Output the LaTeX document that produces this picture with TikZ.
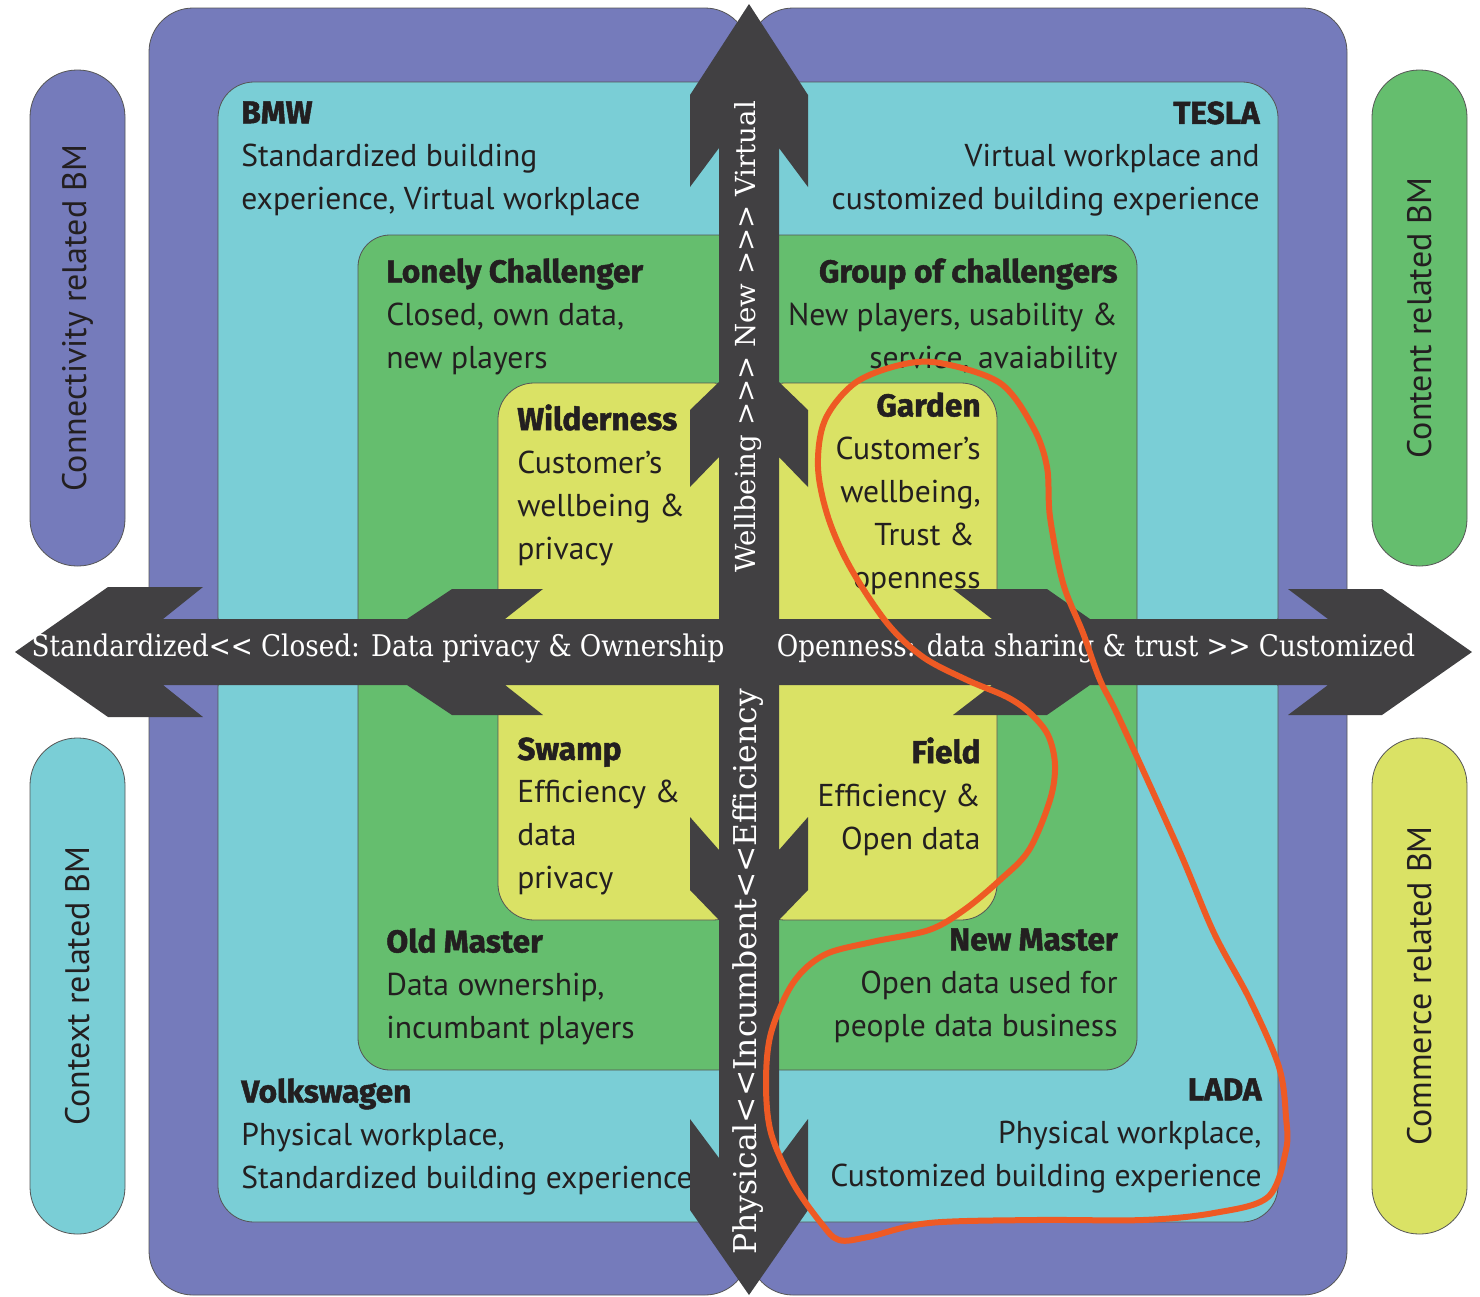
\documentclass[tikz,border=0pt]{standalone}
\usepackage{fontspec}
\setmainfont{PT Sans}
\newfontfamily\headfont{Fira Sans}[BoldFeatures={FakeBold=1.5}]
\newfontfamily\arrowfont{DejaVu Serif}[FakeStretch=0.88]
\newfontfamily\axisfont{DejaVu Serif}

\definecolor{ringpurple}{RGB}{117,123,187}
\definecolor{ringcyan}{RGB}{122,206,214}
\definecolor{ringgreen}{RGB}{101,190,110}
\definecolor{ringyellow}{RGB}{218,226,101}
\definecolor{arrowgray}{RGB}{65,64,66}
\definecolor{loopred}{RGB}{238,90,36}
\definecolor{textdark}{RGB}{35,31,32}
\definecolor{edgegray}{RGB}{85,85,85}

\newcommand{\head}[1]{{\headfont\bfseries\fontsize{15.8}{21.5}\selectfont #1}}

\tikzset{
	quadrant/.style={draw=edgegray, line width=0.4pt, rounded corners=#1},
	pill/.style={draw=edgegray, line width=0.4pt, rounded corners=23.5pt, minimum width=248pt, minimum height=47.5pt, inner sep=0pt, rotate=90, text=textdark, font=\fontsize{17}{20}\selectfont},
	block/.style={inner sep=0pt, text=textdark, font=\fontsize{15.8}{21.5}\selectfont},
	axisarrow/.style={fill=arrowgray},
	axislabel/.style={text=white, inner sep=0pt, font=\arrowfont\fontsize{14.9}{17}\selectfont},
	axislabelv/.style={text=white, inner sep=0pt, rotate=90},
	orangeloop/.style={draw=loopred, line width=3pt},
}

\begin{document}
\begin{tikzpicture}[x=0.5pt, y=-0.5pt]
\useasboundingbox (0,0) rectangle (1480,1297);
\fill[white] (0,0) rectangle (1480,1297);

% nested rings, one quadrant at a time
\foreach \xa/\ya/\xb/\yb/\col/\rad in {149/8/1347/1295/ringpurple/22pt, 218/82/1278/1222/ringcyan/18pt, 358/235/1137/1070/ringgreen/16pt, 498/383/997/920/ringyellow/18pt}{
	\draw[quadrant=\rad, fill=\col] (\xa,\ya) rectangle (749,652);
	\draw[quadrant=\rad, fill=\col] (749,\ya) rectangle (\xb,652);
	\draw[quadrant=\rad, fill=\col] (\xa,652) rectangle (749,\yb);
	\draw[quadrant=\rad, fill=\col] (749,652) rectangle (\xb,\yb);
}

% side labels
\node[pill, fill=ringpurple] (connectivity) at (77.5,318) {Connectivity related BM};
\node[pill, fill=ringcyan] (context) at (77.5,986) {Context related BM};
\node[pill, fill=ringgreen] (content) at (1419.5,318) {Content related BM};
\node[pill, fill=ringyellow] (commerce) at (1419.5,986) {Commerce related BM};

% outer ring
\node[block, anchor=north west, align=left] (bmw) at (241,101) {\head{BMW}\\Standardized building\\experience, Virtual workplace};
\node[block, anchor=north east, align=right] (tesla) at (1260,101) {\head{TESLA}\\Virtual workplace and\\customized building experience};
\node[block, anchor=north west, align=left] (volkswagen) at (241,1078) {\head{Volkswagen}\\Physical workplace,\\Standardized building experience};
\node[block, anchor=north east, align=right] (lada) at (1262,1078) {\head{LADA}\\Physical workplace,\\Customized building experience};

% green ring
\node[block, anchor=north west, align=left] (lonely) at (386,258) {\head{Lonely Challenger}\\Closed, own data,\\new players};
\node[block, anchor=north east, align=right] (group) at (1118,258) {\head{Group of challengers}\\New players, usability \&\\service, avaiability};
\node[block, anchor=north west, align=left] (oldmaster) at (386,928) {\head{Old Master}\\Data ownership,\\incumbant players};
\node[block, anchor=north east, align=right] (newmaster) at (1118,928) {\head{New Master}\\Open data used for\\people data business};

% yellow ring
\node[block, anchor=north west, align=left] (wilderness) at (517,404) {\head{Wilderness}\\Customer’s\\wellbeing \&\\privacy};
\node[block, anchor=north east, align=right] (garden) at (981,392) {\head{Garden}\\Customer’s\\wellbeing,\\Trust \&\kern3pt\\openness};
\node[block, anchor=north west, align=left] (swamp) at (517,737) {\head{Swamp}\\Efficiency \&\\data\\privacy};
\node[block, anchor=north east, align=right] (field) at (981,737) {\head{Field}\\Efficiency \&\\Open data};

% axes
\fill[axisarrow] (749,4) -- (808,95) -- (808,187) -- (779,148) -- (779,382) -- (808,410) -- (808,487) -- (779,457) -- (779,850) -- (808,817) -- (808,890) -- (779,920) -- (779,1158) -- (808,1119) -- (808,1210) -- (749,1295) -- (690,1210) -- (690,1119) -- (719,1158) -- (719,920) -- (690,890) -- (690,817) -- (719,850) -- (719,457) -- (690,487) -- (690,410) -- (719,382) -- (719,148) -- (690,187) -- (690,95) -- cycle;
\fill[axisarrow] (15,652) -- (108,587) -- (203,587) -- (163,619) -- (407,619) -- (452,589) -- (543,589) -- (505,619) -- (992,619) -- (953,589) -- (1047,589) -- (1090,619) -- (1328,619) -- (1288,589) -- (1382,589) -- (1472,652) -- (1382,715) -- (1288,715) -- (1328,685) -- (1090,685) -- (1047,715) -- (953,715) -- (992,685) -- (505,685) -- (543,715) -- (452,715) -- (407,685) -- (163,685) -- (203,717) -- (108,717) -- cycle;

\node[axislabel] (closed) at (378,648) {Standardized<{}< Closed: Data privacy \& Ownership};
\node[axislabel] (openness) at (1096,648) {Openness: data sharing \& trust >{}> Customized};
\node[axislabelv, font=\axisfont\fontsize{13.8}{17}\selectfont] (virtual) at (748,337) {Wellbeing >{}>{}> New >{}>{}> Virtual};
\node[axislabelv, font=\axisfont\fontsize{15.7}{17}\selectfont] (physical) at (748,972) {Physical<{}<Incumbent<{}<Efficiency};

% hand drawn outline
\draw[orangeloop] plot[smooth cycle, tension=0.55] coordinates {(940,363) (1000,383) (1033,427) (1047,467) (1050,517) (1063,583) (1083,633) (1100,680) (1120,720) (1179,850) (1214,933) (1250,1000) (1279,1067) (1286,1117) (1286,1150) (1268,1197) (1214,1213) (1143,1220) (1036,1220) (929,1223) (868,1237) (839,1240) (821,1223) (793,1183) (771,1133) (766,1083) (771,1033) (793,983) (824,955) (872,942) (929,930) (964,910) (1000,880) (1029,850) (1050,800) (1055,765) (1048,735) (1030,713) (1007,697) (967,680) (923,657) (887,623) (850,567) (828,517) (818,467) (825,420) (855,383) (900,365)};
\end{tikzpicture}
\end{document}
